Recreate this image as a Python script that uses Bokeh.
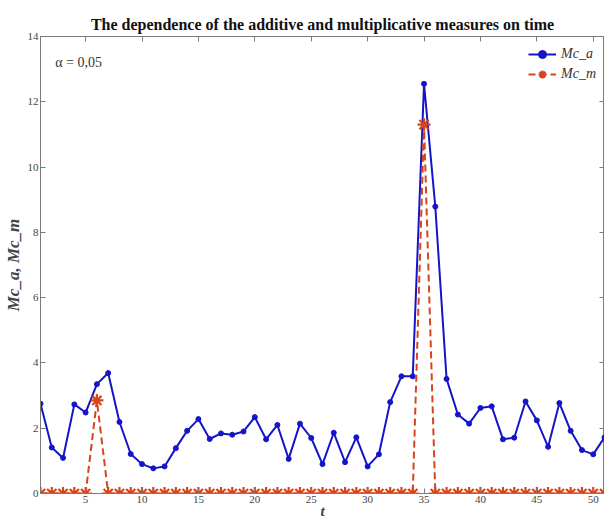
from bokeh.plotting import figure
from bokeh.models import LinearAxis, Range1d, FixedTicker, Legend, LegendItem, Label
from bokeh.embed import file_html
from bokeh.resources import INLINE

t = list(range(1, 52))
mc_a = [2.75, 1.41, 1.09, 2.73, 2.48, 3.35, 3.69, 2.19, 1.21, 0.90,
        0.77, 0.83, 1.39, 1.92, 2.28, 1.67, 1.84, 1.80, 1.90, 2.34,
        1.66, 2.10, 1.06, 2.14, 1.70, 0.90, 1.86, 0.96, 1.72, 0.83,
        1.20, 2.80, 3.59, 3.59, 12.55, 8.79, 3.51, 2.42, 2.14, 2.62,
        2.67, 1.66, 1.71, 2.82, 2.24, 1.43, 2.77, 1.92, 1.33, 1.20,
        1.72]
mc_m = [0.0] * 51
mc_m[5] = 2.85
mc_m[34] = 11.3

x_ticks = [5, 10, 15, 20, 25, 30, 35, 40, 45, 50]
y_ticks = [0, 2, 4, 6, 8, 10, 12, 14]

BLUE = "#1414c8"
RED = "#d8441a"
AXC = "#7a7a7a"
SERIF = "Liberation Serif"

p = figure(width=604, height=521, output_backend="svg", toolbar_location=None,
           x_range=Range1d(1, 51), y_range=Range1d(0, 14),
           min_border_left=32, min_border_right=0, min_border_top=36, min_border_bottom=10)

p.title.text = "The dependence of the additive and multiplicative measures on time"
p.title.align = "center"
p.title.text_font = SERIF
p.title.text_font_size = "16px"
p.title.text_font_style = "bold"
p.title.text_color = "#111111"
p.title.offset = 6
p.title.standoff = 8

p.xgrid.visible = False
p.ygrid.visible = False
p.outline_line_color = AXC
p.background_fill_color = "white"

def style_axis(ax, labels=True):
    ax.axis_line_color = AXC
    ax.major_tick_line_color = AXC
    ax.minor_tick_line_color = None
    ax.major_tick_in = 5
    ax.major_tick_out = 0
    ax.major_label_text_font = SERIF
    ax.major_label_text_font_size = "11px"
    ax.major_label_text_color = "#444444"
    ax.major_label_standoff = 2
    if not labels:
        ax.major_label_text_alpha = 0
        ax.major_label_text_font_size = "0px"
        ax.major_label_standoff = 0

p.xaxis.ticker = FixedTicker(ticks=x_ticks)
p.yaxis.ticker = FixedTicker(ticks=y_ticks)
style_axis(p.xaxis[0])
style_axis(p.yaxis[0])
p.xaxis.axis_label = "t"
p.xaxis.axis_label_text_font = SERIF
p.xaxis.axis_label_text_font_style = "bold italic"
p.xaxis.axis_label_text_font_size = "15px"
p.xaxis.axis_label_standoff = -3
p.yaxis.axis_label = "Mc_a, Mc_m"
p.yaxis.axis_label_text_font = SERIF
p.yaxis.axis_label_text_font_style = "bold italic"
p.yaxis.axis_label_text_font_size = "17px"
p.yaxis.axis_label_standoff = 2

top = LinearAxis(ticker=FixedTicker(ticks=x_ticks))
style_axis(top, labels=False)
p.add_layout(top, "above")
right = LinearAxis(ticker=FixedTicker(ticks=y_ticks))
style_axis(right, labels=False)
p.add_layout(right, "right")

la = p.line(t, mc_a, line_color=BLUE, line_width=2)
sa = p.scatter(t, mc_a, marker="circle", size=5, fill_color=BLUE, line_color=BLUE)
lm = p.line(t, mc_m, line_color=RED, line_width=2, line_dash="7 4")
sm = p.scatter(t, mc_m, marker="asterisk", size=13, line_color=RED, line_width=2.2)

legend = Legend(items=[LegendItem(label="Mc_a", renderers=[la, sa]),
                       LegendItem(label="Mc_m", renderers=[lm, sm])],
                location="top_right")
legend.border_line_color = None
legend.background_fill_alpha = 0
legend.label_text_font = SERIF
legend.label_text_font_style = "italic"
legend.label_text_font_size = "14px"
legend.label_text_color = "#333333"
legend.glyph_width = 28
legend.spacing = 0
legend.padding = 2
legend.margin = 8
p.add_layout(legend)

alpha = Label(x=2.3, y=13.2, text="α = 0,05", text_font=SERIF, text_font_size="14px",
              text_color="#333333", text_baseline="middle")
p.add_layout(alpha)

open("out.html", "w").write(file_html(p, INLINE))
